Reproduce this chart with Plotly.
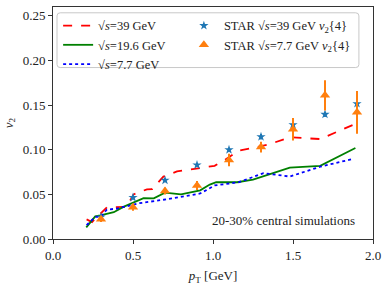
import plotly.graph_objects as go

# Simulation curves
x39 = [0.21, 0.244, 0.337, 0.37, 0.42, 0.46, 0.504, 0.587, 0.62, 0.69, 0.775, 0.86, 0.92, 1.01, 1.07, 1.16, 1.275, 1.36, 1.48, 1.67, 1.89]
y39 = [0.022, 0.019, 0.0356, 0.0356, 0.0352, 0.036, 0.050, 0.0557, 0.056, 0.070, 0.0757, 0.078, 0.079, 0.082, 0.088, 0.099, 0.103, 0.1066, 0.114, 0.112, 0.129]

x196 = [0.208, 0.264, 0.296, 0.38, 0.44, 0.566, 0.63, 0.70, 0.80, 0.92, 0.98, 1.02, 1.15, 1.25, 1.38, 1.48, 1.67, 1.89]
y196 = [0.013, 0.0254, 0.0265, 0.030, 0.036, 0.0458, 0.0455, 0.052, 0.050, 0.0546, 0.061, 0.0636, 0.0636, 0.0666, 0.074, 0.080, 0.082, 0.102]

x77 = [0.21, 0.264, 0.30, 0.337, 0.40, 0.44, 0.535, 0.69, 0.92, 1.01, 1.16, 1.316, 1.48, 1.67, 1.88]
y77 = [0.0156, 0.0247, 0.025, 0.033, 0.034, 0.0356, 0.040, 0.044, 0.051, 0.060, 0.0636, 0.0738, 0.070, 0.081, 0.090]

# STAR data
star_x = [0.3, 0.5, 0.7, 0.9, 1.1, 1.3, 1.5, 1.7, 1.9]
star39_y = [0.0247, 0.0465, 0.0658, 0.083, 0.100, 0.1146, 0.128, 0.1397, 0.1517]
star39_err = [0.002, 0.002, 0.002, 0.002, 0.002, 0.003, 0.003, 0.003, 0.004]
star77_y = [0.022, 0.0356, 0.0538, 0.060, 0.0884, 0.103, 0.123, 0.161, 0.142]
star77_err = [0.003, 0.004, 0.004, 0.005, 0.007, 0.006, 0.0125, 0.017, 0.024]

serif = "Liberation Serif, DejaVu Serif, serif"

fig = go.Figure()
fig.add_trace(go.Scatter(x=x39, y=y39, mode="lines", name="√<i>s</i>=39 GeV",
                         line=dict(color="red", dash="dash", width=1.8), legend="legend"))
fig.add_trace(go.Scatter(x=x196, y=y196, mode="lines", name="√<i>s</i>=19.6 GeV",
                         line=dict(color="green", width=1.8), legend="legend"))
fig.add_trace(go.Scatter(x=x77, y=y77, mode="lines", name="√<i>s</i>=7.7 GeV",
                         line=dict(color="blue", dash="dot", width=1.8), legend="legend"))
fig.add_trace(go.Scatter(x=star_x, y=star39_y, mode="markers", name="STAR √<i>s</i>=39 GeV <i>v</i><sub>2</sub>{4}",
                         marker=dict(symbol="star", size=7, color="#1f77b4"),
                         error_y=dict(type="data", array=star39_err, color="#1f77b4", thickness=1.8, width=0),
                         legend="legend2"))
fig.add_trace(go.Scatter(x=star_x, y=star77_y, mode="markers", name="STAR √<i>s</i>=7.7 GeV <i>v</i><sub>2</sub>{4}",
                         marker=dict(symbol="triangle-up", size=9, color="#ff7f0e"),
                         error_y=dict(type="data", array=star77_err, color="#ff7f0e", thickness=2, width=0),
                         legend="legend2"))

fig.add_annotation(x=1.44, y=0.021, text="20-30% central simulations", showarrow=False,
                   font=dict(family=serif, size=13, color="#222"))

# Legend frame (rounded)
x0, x1, y0, y1, r = 0.0125, 0.956, 0.739, 0.975, 0.01
ry = r * 320 / 238
path = (f"M {x0+r},{y0} L {x1-r},{y0} Q {x1},{y0} {x1},{y0+ry} L {x1},{y1-ry} Q {x1},{y1} {x1-r},{y1} "
        f"L {x0+r},{y1} Q {x0},{y1} {x0},{y1-ry} L {x0},{y0+ry} Q {x0},{y0} {x0+r},{y0} Z")
fig.add_shape(type="path", path=path, xref="paper", yref="paper",
              line=dict(color="#c8c8c8", width=1), fillcolor="rgba(255,255,255,0.8)", layer="above")

axis_common = dict(showgrid=False, zeroline=False, showline=True, linecolor="#333", linewidth=1,
                   mirror=True, ticks="outside", ticklen=4, tickcolor="#333",
                   tickfont=dict(family=serif, size=13, color="#222"))

fig.update_layout(
    width=388, height=287,
    margin=dict(l=53, r=15, t=6, b=43),
    plot_bgcolor="white", paper_bgcolor="white",
    font=dict(family=serif, color="#222"),
    xaxis=dict(range=[0, 2], tickvals=[0, 0.5, 1.0, 1.5, 2.0], tickformat=".1f",
               title=dict(text="<i>p</i><sub>T</sub> [GeV]", font=dict(family=serif, size=13), standoff=9),
               **axis_common),
    yaxis=dict(range=[0, 0.26], tickvals=[0, 0.05, 0.1, 0.15, 0.2, 0.25], tickformat=".2f",
               title=dict(text="<i>v</i><sub>2</sub>", font=dict(family=serif, size=13), standoff=6),
               **axis_common),
    legend=dict(x=0.016, y=0.983, xanchor="left", yanchor="top", bgcolor="rgba(0,0,0,0)",
                font=dict(family=serif, size=12.5), itemwidth=30, tracegroupgap=0),
    legend2=dict(x=0.409, y=0.983, xanchor="left", yanchor="top", bgcolor="rgba(0,0,0,0)",
                 font=dict(family=serif, size=12.5), itemwidth=30, tracegroupgap=0),
    showlegend=True,
)

fig.write_html("out.html", config={"displayModeBar": False},
               post_script="document.body.style.margin='0';document.body.style.padding='0';")
